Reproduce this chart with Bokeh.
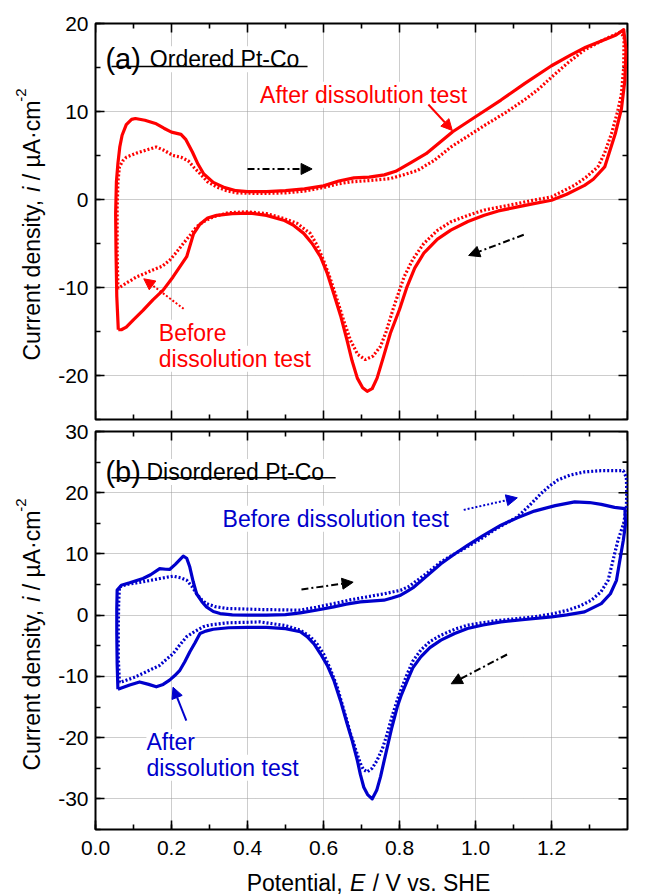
import math
from bokeh.plotting import figure
from bokeh.models import (Label, Arrow, NormalHead, LinearAxis, SingleIntervalTicker,
                          NumeralTickFormatter, Range1d, Grid)
from bokeh.layouts import column, row
from bokeh.embed import file_html
from bokeh.resources import INLINE

FONT = "Liberation Sans"
RED = "#ff0000"
BLUE = "#0000cc"

# ---------------- data ----------------
# Panel (a) Ordered Pt-Co, after dissolution test (solid)
A_AFTER_E = [
    0.060, 0.056, 0.054, 0.053, 0.055, 0.059, 0.064, 0.070, 0.081, 0.095,
    0.105, 0.130, 0.160, 0.180, 0.200, 0.225, 0.238, 0.255, 0.270, 0.285,
    0.310, 0.340, 0.370, 0.400, 0.450, 0.500, 0.550, 0.600, 0.640, 0.680,
    0.720, 0.760, 0.790, 0.830, 0.870, 0.940, 1.000, 1.067, 1.130, 1.200,
    1.250, 1.290, 1.336, 1.370, 1.390, 1.396, 1.393, 1.384, 1.368, 1.340,
    1.310, 1.287, 1.240, 1.200, 1.150, 1.111, 1.060, 1.023, 0.980, 0.935,
    0.900, 0.864, 0.840, 0.820, 0.800, 0.776, 0.757, 0.741, 0.728, 0.715,
    0.703, 0.689, 0.675, 0.662, 0.645, 0.627, 0.610, 0.592, 0.570, 0.548,
    0.520, 0.495, 0.450, 0.407, 0.360, 0.319, 0.295, 0.275, 0.258, 0.240,
    0.204, 0.178, 0.151, 0.125, 0.099, 0.081, 0.068, 0.060]
A_AFTER_I = [
    -14.8, -11.0, -6.0, -1.6, 2.0, 4.1, 6.0, 7.3, 8.5, 9.1,
    9.2, 9.0, 8.6, 8.1, 7.65, 7.4, 6.8, 5.4, 4.0, 2.9,
    1.95, 1.35, 1.0, 0.9, 0.9, 1.0, 1.2, 1.55, 2.1, 2.45,
    2.55, 2.8, 3.2, 4.2, 5.2, 7.7, 9.4, 11.3, 13.2, 15.2,
    16.4, 17.3, 18.1, 18.7, 19.3, 17.0, 13.5, 10.3, 7.5, 3.7,
    2.3, 1.6, 0.6, -0.08, -0.5, -0.84, -1.3, -1.78, -2.5, -3.48,
    -4.5, -6.1, -7.8, -9.9, -12.5, -15.2, -18.0, -20.3, -21.5, -21.8,
    -21.4, -20.3, -18.3, -16.0, -13.2, -10.7, -8.4, -6.5, -5.0, -3.85,
    -2.9, -2.35, -1.8, -1.55, -1.6, -1.8, -2.1, -2.8, -3.9, -6.5,
    -8.8, -10.3, -11.4, -12.6, -13.7, -14.5, -14.8, -14.8]

# Panel (a), before dissolution test (dotted)
A_BEFORE_E = [
    0.059, 0.057, 0.057, 0.059, 0.063, 0.072, 0.081, 0.110, 0.140, 0.160,
    0.180, 0.204, 0.225, 0.244, 0.260, 0.275, 0.295, 0.319, 0.345, 0.372,
    0.433, 0.500, 0.550, 0.600, 0.635, 0.671, 0.720, 0.776, 0.810, 0.847,
    0.890, 0.935, 0.980, 1.023, 1.080, 1.138, 1.170, 1.200, 1.245, 1.287,
    1.335, 1.380, 1.391, 1.390, 1.384, 1.374, 1.358, 1.340, 1.322, 1.290,
    1.260, 1.200, 1.150, 1.111, 1.023, 0.980, 0.935, 0.900, 0.864, 0.835,
    0.812, 0.785, 0.765, 0.750, 0.730, 0.710, 0.690, 0.671, 0.655, 0.636,
    0.618, 0.600, 0.583, 0.565, 0.530, 0.495, 0.450, 0.398, 0.350, 0.310,
    0.285, 0.266, 0.250, 0.231, 0.213, 0.195, 0.175, 0.151, 0.130, 0.108,
    0.085, 0.059]
A_BEFORE_I = [
    -10.1, -6.0, -1.0, 2.0, 3.7, 4.4, 4.8, 5.3, 5.7, 5.96,
    5.6, 5.0, 4.8, 4.4, 3.6, 2.95, 2.0, 1.43, 1.0, 0.75,
    0.68, 0.75, 0.95, 1.36, 1.75, 2.0, 2.15, 2.38, 2.8, 3.3,
    4.4, 5.96, 7.2, 8.4, 9.9, 11.6, 12.7, 13.9, 15.6, 17.0,
    18.1, 19.0, 18.5, 15.0, 12.0, 10.0, 7.5, 5.3, 3.7, 2.5,
    1.6, 0.3, -0.1, -0.45, -1.2, -1.8, -2.54, -3.5, -5.0, -6.8,
    -8.8, -12.2, -15.0, -16.7, -17.8, -18.2, -17.6, -16.0, -14.0, -11.4,
    -9.0, -6.9, -5.2, -3.85, -2.7, -2.15, -1.6, -1.4, -1.5, -1.97,
    -2.5, -3.1, -4.0, -5.0, -6.0, -6.9, -7.6, -8.0, -8.4, -8.8,
    -9.4, -10.1]

# Panel (b) Disordered Pt-Co, after dissolution test (solid)
B_AFTER_E = [
    0.059, 0.057, 0.056, 0.056, 0.057, 0.068, 0.090, 0.125, 0.145, 0.169,
    0.185, 0.195, 0.210, 0.231, 0.240, 0.248, 0.257, 0.266, 0.280, 0.292,
    0.310, 0.328, 0.360, 0.400, 0.450, 0.500, 0.539, 0.580, 0.627, 0.660,
    0.697, 0.759, 0.780, 0.803, 0.820, 0.838, 0.870, 0.909, 0.945, 0.979,
    1.020, 1.067, 1.110, 1.155, 1.210, 1.261, 1.300, 1.331, 1.366, 1.393,
    1.395, 1.389, 1.380, 1.371, 1.355, 1.331, 1.287, 1.240, 1.200, 1.130,
    1.067, 1.020, 0.979, 0.945, 0.909, 0.880, 0.856, 0.835, 0.821, 0.805,
    0.794, 0.780, 0.768, 0.758, 0.750, 0.740, 0.728, 0.716, 0.706, 0.697,
    0.689, 0.676, 0.662, 0.645, 0.627, 0.610, 0.592, 0.575, 0.557, 0.539,
    0.500, 0.450, 0.400, 0.350, 0.310, 0.290, 0.275, 0.262, 0.248, 0.235,
    0.222, 0.208, 0.195, 0.178, 0.160, 0.140, 0.116, 0.090, 0.059]
B_AFTER_I = [
    -12.1, -8.0, -3.0, 1.0, 4.1, 4.9, 5.3, 6.0, 6.6, 7.6,
    7.5, 7.47, 8.3, 9.64, 9.3, 7.9, 5.5, 3.5, 2.2, 1.36,
    0.6, 0.27, 0.05, 0.0, 0.0, 0.1, 0.38, 0.8, 1.36, 1.8,
    2.18, 2.45, 2.8, 3.27, 3.9, 4.6, 6.3, 8.4, 10.0, 11.4,
    13.0, 14.7, 15.9, 17.0, 17.9, 18.5, 18.4, 18.1, 17.6, 17.4,
    15.0, 12.25, 9.0, 5.7, 3.5, 1.9, 0.54, 0.05, -0.27, -0.7,
    -1.1, -1.6, -2.18, -3.0, -4.08, -5.3, -6.8, -8.6, -10.6, -13.0,
    -15.0, -18.3, -21.5, -24.2, -26.4, -28.6, -30.0, -29.3, -28.1, -26.0,
    -23.7, -20.6, -17.7, -14.0, -10.6, -8.2, -6.3, -4.7, -3.5, -2.7,
    -2.2, -2.0, -2.0, -2.05, -2.3, -2.6, -3.0, -4.5, -6.0, -7.6,
    -9.0, -9.9, -10.6, -11.3, -11.7, -11.3, -10.9, -11.4, -12.1]

# Panel (b), before dissolution test (dotted)
B_BEFORE_E = [
    0.063, 0.060, 0.060, 0.061, 0.063, 0.080, 0.125, 0.170, 0.204, 0.225,
    0.240, 0.255, 0.266, 0.280, 0.292, 0.315, 0.345, 0.433, 0.539, 0.580,
    0.627, 0.670, 0.715, 0.760, 0.803, 0.825, 0.847, 0.875, 0.909, 0.945,
    0.979, 1.015, 1.049, 1.080, 1.111, 1.140, 1.173, 1.195, 1.217, 1.250,
    1.287, 1.330, 1.389, 1.397, 1.398, 1.397, 1.390, 1.375, 1.362, 1.349,
    1.330, 1.305, 1.275, 1.243, 1.200, 1.155, 1.067, 1.020, 0.979, 0.945,
    0.909, 0.880, 0.856, 0.835, 0.821, 0.805, 0.794, 0.780, 0.768, 0.755,
    0.741, 0.728, 0.715, 0.705, 0.697, 0.685, 0.671, 0.655, 0.636, 0.618,
    0.600, 0.583, 0.565, 0.539, 0.500, 0.433, 0.345, 0.300, 0.283, 0.260,
    0.240, 0.220, 0.204, 0.185, 0.169, 0.145, 0.125, 0.100, 0.068, 0.063]
B_BEFORE_I = [
    -11.0, -7.0, -2.0, 2.0, 4.6, 5.0, 5.45, 6.0, 6.37, 6.1,
    5.7, 4.6, 3.5, 2.5, 1.9, 1.4, 1.1, 0.93, 0.82, 1.3,
    1.9, 2.5, 3.0, 3.5, 4.08, 4.7, 5.7, 7.0, 8.7, 10.0,
    11.2, 12.5, 13.9, 15.0, 16.1, 17.8, 19.9, 21.1, 22.1, 22.9,
    23.4, 23.6, 23.6, 22.5, 20.0, 17.7, 15.0, 12.25, 9.0, 5.7,
    3.8, 2.45, 1.5, 0.82, 0.2, -0.27, -0.82, -1.2, -1.63, -2.3,
    -3.27, -4.3, -5.7, -7.5, -9.5, -12.0, -13.9, -16.6, -19.3, -21.8,
    -23.7, -25.0, -25.6, -25.2, -24.2, -22.0, -19.3, -15.8, -11.7, -8.8,
    -6.3, -4.7, -3.5, -2.45, -1.7, -1.1, -1.25, -1.6, -1.9, -2.7,
    -3.5, -5.0, -6.3, -7.3, -8.2, -8.9, -9.5, -10.2, -10.9, -11.0]

X_RANGE = (0.0, 1.4)
A_Y_RANGE = (-25, 20)
B_Y_RANGE = (-35, 30)
X_MAJOR, X_MINOR = 0.2, 0.1
Y_MAJOR, Y_MINOR = 10, 5

# ---------------- layout constants (pixels) ----------------
TOTAL_H = 894
LW = 52                     # width of the left label strip
PW = 593                    # width of the panels
BL, BR = 43, 18             # panel borders -> frame 95 .. 627
FRAME_L = LW + BL
FRAME_R = LW + PW - BR
A_H, A_BT, A_BB = 421, 23, 2          # frame 23 .. 419
B_H, B_BT, B_BB = 452, 10, 44         # frame 431 .. 829
XT_H = TOTAL_H - A_H - B_H            # strip for the x-axis title

CW = {' ': 0.278, ',': 0.278, '.': 0.278, '/': 0.278, '-': 0.333, '·': 0.278,
      'µ': 0.576, '2': 0.556, 'A': 0.667, 'C': 0.722, 'E': 0.667, 'H': 0.722,
      'P': 0.667, 'S': 0.667, 'V': 0.667, 'a': 0.556, 'c': 0.5, 'd': 0.556,
      'e': 0.556, 'i': 0.222, 'l': 0.222, 'm': 0.833, 'n': 0.556, 'o': 0.556,
      'r': 0.333, 's': 0.5, 't': 0.278, 'u': 0.556, 'v': 0.5, 'y': 0.5}


def tw(text, size):
    return sum(CW.get(c, 0.55) for c in text) * size


def label(p, x, y, text, size, color="black", align="left", style="normal",
          angle=0.0, bg="white"):
    p.add_layout(Label(x=x, y=y, text=text, text_font=FONT,
                       text_font_size=f"{size}px", text_color=color,
                       text_align=align, text_baseline="alphabetic",
                       text_font_style=style, angle=angle,
                       background_fill_color=bg))


def arrow(p, xs, ys, xe, ye, color, dash):
    p.add_layout(Arrow(end=NormalHead(size=11, fill_color=color, line_color=color,
                                      line_width=1),
                       x_start=xs, y_start=ys, x_end=xe, y_end=ye,
                       line_color=color, line_width=2, line_dash=dash))


def rule(p, xs, ys, xe, ye):
    p.add_layout(Arrow(end=None, x_start=xs, y_start=ys, x_end=xe, y_end=ye,
                       line_color="black", line_width=1.5))


def ticks_between(lo, hi, step, offset=0.0):
    k0 = math.ceil((lo - offset) / step - 1e-9)
    k1 = math.floor((hi - offset) / step + 1e-9)
    return [round(offset + k * step, 6) for k in range(k0, k1 + 1)]


def make_fig(yr, h, bt, bb, xlabels):
    p = figure(width=PW, height=h, x_range=Range1d(*X_RANGE), y_range=Range1d(*yr),
               x_axis_type=None, y_axis_type=None, output_backend="svg",
               toolbar_location=None, title=None, min_border_left=BL, min_border_right=BR,
               min_border_top=bt, min_border_bottom=bb)
    p.outline_line_color = "black"
    p.outline_line_width = 2
    p.outline_line_alpha = 1.0
    p.background_fill_color = "white"
    p.border_fill_color = "white"
    xt = SingleIntervalTicker(interval=X_MAJOR, num_minor_ticks=2)
    yt = SingleIntervalTicker(interval=Y_MAJOR, num_minor_ticks=2)
    sides = [("left", yt)] + ([("below", xt)] if xlabels else [])
    for side, tk in sides:
        ax = LinearAxis(ticker=tk)
        ax.formatter = NumeralTickFormatter(format="0.0" if tk is xt else "0")
        ax.axis_line_color = None
        ax.major_tick_in = 9
        ax.major_tick_out = 0
        ax.minor_tick_in = 5
        ax.minor_tick_out = 0
        ax.major_tick_line_color = "black"
        ax.minor_tick_line_color = "black"
        ax.major_tick_line_width = 1.6
        ax.minor_tick_line_width = 1.6
        ax.major_label_text_font = FONT
        ax.major_label_text_font_size = "21px"
        ax.major_label_text_color = "black"
        ax.major_label_standoff = 11 if side == "below" else 7
        p.add_layout(ax, side)
    for dim, tk in [(0, xt), (1, yt)]:
        p.add_layout(Grid(dimension=dim, ticker=tk, grid_line_color="#9a9a9a",
                          grid_line_dash="1 1", grid_line_width=1))
    # inward ticks on the sides without labels
    xmaj = ticks_between(X_RANGE[0], X_RANGE[1], X_MAJOR)
    xmin = ticks_between(X_RANGE[0], X_RANGE[1], X_MAJOR, X_MINOR)
    ymaj = ticks_between(yr[0], yr[1], Y_MAJOR)
    ymin = ticks_between(yr[0], yr[1], Y_MAJOR, Y_MINOR)
    tick_style = dict(line_color="black", line_width=1.6, length_units="screen")
    edges = [(xmaj, 9, yr[1], -math.pi / 2), (xmin, 5, yr[1], -math.pi / 2)]
    if not xlabels:
        edges += [(xmaj, 9, yr[0], math.pi / 2), (xmin, 5, yr[0], math.pi / 2)]
    for xs_, ln, yv, ang in edges:
        p.ray(x=xs_, y=[yv] * len(xs_), length=ln, angle=ang, **tick_style)
    for ys_, ln in [(ymaj, 9), (ymin, 5)]:
        p.ray(x=[X_RANGE[1]] * len(ys_), y=ys_, length=ln, angle=math.pi, **tick_style)
    return p


def strip(w, h, xr, yr, bl=0, br=0):
    s = figure(width=w, height=h, x_range=Range1d(*xr), y_range=Range1d(*yr),
               x_axis_type=None, y_axis_type=None, output_backend="svg",
               toolbar_location=None, title=None, min_border=0,
               min_border_left=bl, min_border_right=br, min_border_top=0,
               min_border_bottom=0)
    s.outline_line_color = None
    s.background_fill_color = "white"
    s.border_fill_color = "white"
    return s


# ---------------- panel (a) ----------------
pa = make_fig(A_Y_RANGE, A_H, A_BT, A_BB, False)
pa.line(A_BEFORE_E, A_BEFORE_I, line_color=RED, line_width=3.2, line_dash="2 2")
pa.line(A_AFTER_E, A_AFTER_I, line_color=RED, line_width=3.2, line_join="round")
label(pa, 0.026, 15.95, "(a)", 29, bg=None)
label(pa, 0.143, 15.95, "Ordered Pt-Co", 23)
rule(pa, 0.042, 15.11, 0.558, 15.11)
label(pa, 0.978, 11.9, "After dissolution test", 23, color=RED, align="right")
label(pa, 0.1666, -15.15, "Before", 23, color=RED)
label(pa, 0.1666, -18.1, "dissolution test", 23, color=RED)
arrow(pa, 0.876, 10.8, 0.939, 7.84, RED, "solid")
arrow(pa, 0.232, -12.42, 0.127, -9.01, RED, "2 2")
arrow(pa, 0.40, 3.47, 0.57, 3.47, "black", "7 3 2 3")
arrow(pa, 1.127, -4.01, 0.982, -6.36, "black", "7 3 2 3")

# ---------------- panel (b) ----------------
pb = make_fig(B_Y_RANGE, B_H, B_BT, B_BB, True)
pb.line(B_BEFORE_E, B_BEFORE_I, line_color=BLUE, line_width=3.2, line_dash="2 2")
pb.line(B_AFTER_E, B_AFTER_I, line_color=BLUE, line_width=3.2, line_join="round")
label(pb, 0.026, 23.4, "(b)", 29, bg=None)
label(pb, 0.134, 23.4, "Disordered Pt-Co", 23)
rule(pb, 0.042, 22.44, 0.632, 22.44)
label(pb, 0.93, 15.74, "Before dissolution test", 23, color=BLUE, align="right")
label(pb, 0.134, -20.74, "After", 23, color=BLUE)
label(pb, 0.134, -24.92, "dissolution test", 23, color=BLUE)
arrow(pb, 0.969, 17.2, 1.11, 19.17, BLUE, "2 2")
arrow(pb, 0.239, -17.2, 0.204, -11.76, BLUE, "solid")
arrow(pb, 0.542, 4.2, 0.678, 5.39, "black", "7 3 2 3")
arrow(pb, 1.083, -6.42, 0.936, -11.2, "black", "7 3 2 3")

# ---------------- y-axis titles (left strip, page pixel coordinates) ----------------
yl = strip(LW, TOTAL_H, (0, LW), (TOTAL_H, 0))


def ylabel(s, y_center):
    F, FS = 23, 15
    sp = tw(" ", F)
    parts = [("Current density,", "normal", F, False, sp),
             ("i", "italic", F, False, sp),
             ("/ µA·cm", "normal", F, False, 0),
             ("-2", "normal", FS, True, 0)]
    total = sum(tw(t, f) + extra for t, st, f, sup, extra in parts)
    y = y_center + total / 2
    for t, st, f, sup, extra in parts:
        label(s, 20 if sup else 31, y, t, f, style=st, angle=math.pi / 2, bg=None)
        y -= tw(t, f) + extra


ylabel(yl, 224)
ylabel(yl, 634)

# ---------------- x-axis title (bottom strip, frame aligned with the panels) ----------------
xs = strip(PW, XT_H, (FRAME_L, FRAME_R), (TOTAL_H, TOTAL_H - XT_H), bl=BL, br=BR)


def xtitle(s, x_center, y):
    F = 23
    sp = tw(" ", F) + 1
    parts = [("Potential,", "normal", sp), ("E", "italic", sp), ("/ V vs. SHE", "normal", 0)]
    total = sum(tw(t, F) + extra for t, st, extra in parts)
    x = x_center - total / 2
    for t, st, extra in parts:
        label(s, x, y, t, F, style=st, bg=None)
        x += tw(t, F) + extra


xtitle(xs, 368, 882)

layout = row(yl, column(pa, pb, xs))
open("out.html", "w").write(file_html(layout, INLINE))
